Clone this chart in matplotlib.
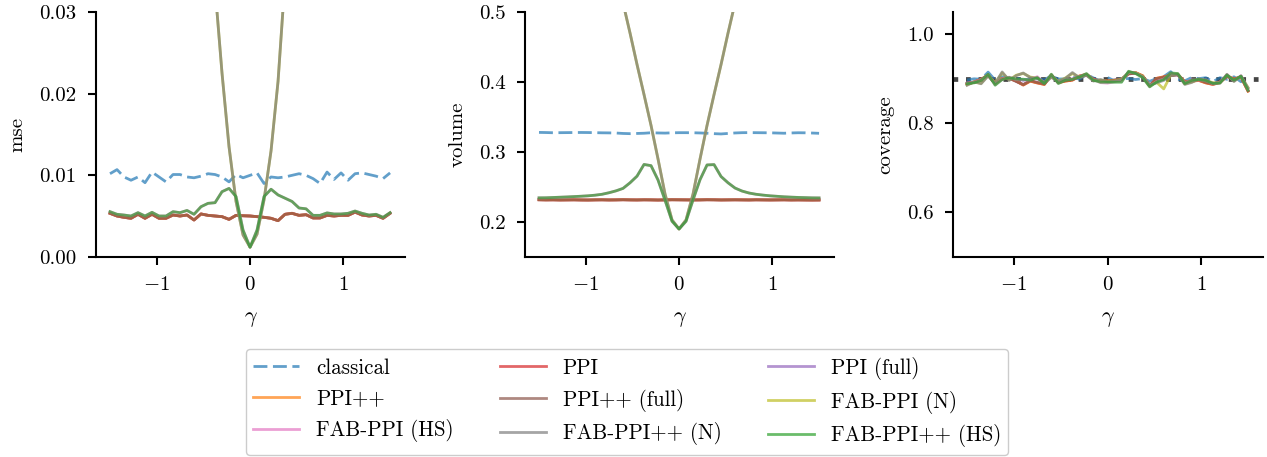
import numpy as np
import matplotlib
matplotlib.use("Agg")
import matplotlib.pyplot as plt

plt.rcParams['font.family'] = 'serif'
plt.rcParams['font.serif'] = ['cmr10', 'DejaVu Serif']
plt.rcParams['mathtext.fontset'] = 'cm'
plt.rcParams['axes.formatter.use_mathtext'] = True
plt.rcParams['font.size'] = 15

# gamma grid (41 points, -1.5 .. 1.5)
gamma = np.linspace(-1.5, 1.5, 41)

# --- mse ---
mse_classical = [0.0102, 0.0107, 0.0098, 0.0094, 0.0098, 0.0091, 0.0104, 0.0098, 0.0092, 0.0101,
                 0.0101, 0.0098, 0.0097, 0.0099, 0.0102, 0.0101, 0.0098, 0.0092, 0.0101, 0.0097,
                 0.0100,
                 0.0103, 0.0090, 0.0098, 0.0097, 0.0098, 0.0100, 0.0102, 0.0100, 0.0096, 0.0090,
                 0.0104, 0.0095, 0.0103, 0.0094, 0.0102, 0.0103, 0.0101, 0.0099, 0.0096, 0.0103]
mse_ppi = [0.00535, 0.00502, 0.00486, 0.00474, 0.00523, 0.00474, 0.00523, 0.00474, 0.00474, 0.00514,
           0.00502, 0.00514, 0.00453, 0.00527, 0.00510, 0.00502, 0.00494, 0.00461, 0.00510, 0.00505,
           0.00502,
           0.00494, 0.00486, 0.00474, 0.00445, 0.00523, 0.00535, 0.00510, 0.00518, 0.00478, 0.00478,
           0.00510, 0.00502, 0.00510, 0.00510, 0.00550, 0.00514, 0.00502, 0.00510, 0.00474, 0.00535]
mse_hs = [0.00555, 0.00523, 0.00514, 0.00502, 0.00543, 0.00502, 0.00547, 0.00502, 0.00502, 0.00555,
          0.00543, 0.00570, 0.00523, 0.00616, 0.00657, 0.00665, 0.00800, 0.00840, 0.00740, 0.00330,
          0.00120,
          0.00330, 0.00740, 0.00830, 0.00760, 0.00720, 0.00680, 0.00600, 0.00590, 0.00510, 0.00510,
          0.00540, 0.00527, 0.00527, 0.00535, 0.00563, 0.00535, 0.00514, 0.00523, 0.00486, 0.00543]
mse_n = [0.52, 0.47, 0.42, 0.38, 0.335, 0.295, 0.26, 0.225, 0.19, 0.162,
         0.135, 0.11, 0.087, 0.067, 0.049, 0.033, 0.0225, 0.0135, 0.0068, 0.0027,
         0.0012,
         0.0028, 0.0070, 0.0130, 0.0215, 0.034, 0.050, 0.068, 0.088, 0.111, 0.136,
         0.163, 0.192, 0.226, 0.262, 0.297, 0.337, 0.382, 0.423, 0.472, 0.521]

# --- volume ---
vol_classical = [0.3280, 0.3278, 0.3275, 0.3276, 0.3277, 0.3278, 0.3279, 0.3278, 0.3276, 0.3274,
                 0.3273, 0.3271, 0.3265, 0.3262, 0.3265, 0.3268, 0.3275, 0.3272, 0.3270, 0.3274,
                 0.3276,
                 0.3276, 0.3275, 0.3272, 0.3268, 0.3262, 0.3258, 0.3265, 0.3272, 0.3276, 0.3277,
                 0.3276, 0.3275, 0.3274, 0.3271, 0.3268, 0.3272, 0.3275, 0.3274, 0.3271, 0.3267]
vol_ppi = [0.2318, 0.2316, 0.2317, 0.2315, 0.2316, 0.2317, 0.2315, 0.2314, 0.2316, 0.2317,
           0.2315, 0.2316, 0.2318, 0.2316, 0.2315, 0.2317, 0.2316, 0.2314, 0.2316, 0.2318,
           0.2317,
           0.2316, 0.2315, 0.2316, 0.2318, 0.2317, 0.2315, 0.2316, 0.2317, 0.2316, 0.2315,
           0.2317, 0.2316, 0.2315, 0.2316, 0.2317, 0.2315, 0.2316, 0.2315, 0.2314, 0.2315]
vol_hs = [0.2345, 0.2346, 0.2350, 0.2354, 0.2358, 0.2363, 0.2368, 0.2374, 0.2383, 0.2396,
          0.2418, 0.2445, 0.2480, 0.2560, 0.2655, 0.2822, 0.2805, 0.2600, 0.2310, 0.2010,
          0.1900,
          0.2010, 0.2315, 0.2605, 0.2815, 0.2820, 0.2650, 0.2560, 0.2485, 0.2442, 0.2414,
          0.2396, 0.2384, 0.2374, 0.2367, 0.2360, 0.2355, 0.2351, 0.2348, 0.2345, 0.2344]
vol_n = [1.01, 0.965, 0.925, 0.885, 0.845, 0.80, 0.76, 0.72, 0.675, 0.635,
         0.59, 0.55, 0.513, 0.47, 0.425, 0.382, 0.338, 0.29, 0.24, 0.203,
         0.19,
         0.203, 0.24, 0.29, 0.338, 0.382, 0.425, 0.47, 0.513, 0.55, 0.59,
         0.635, 0.675, 0.72, 0.76, 0.80, 0.845, 0.885, 0.925, 0.965, 1.01]

# --- coverage ---
cov_classical = [0.8975, 0.9000, 0.8990, 0.9150, 0.8970, 0.9050, 0.8995, 0.9020, 0.8970, 0.9005,
                 0.9000, 0.8980, 0.9065, 0.8995, 0.9000, 0.9045, 0.8990, 0.9100, 0.9020, 0.8950,
                 0.9030,
                 0.8955, 0.9010, 0.9005, 0.8985, 0.9005, 0.8945, 0.9005, 0.9050, 0.9160, 0.8990,
                 0.8955, 0.9030, 0.9005, 0.9025, 0.8935, 0.9025, 0.8990, 0.9045, 0.8935, 0.9005]
cov_ppi = [0.8884, 0.8929, 0.8989, 0.9083, 0.8897, 0.9004, 0.9008, 0.8951, 0.8861, 0.8949,
           0.8908, 0.8874, 0.9083, 0.8914, 0.8949, 0.8971, 0.9063, 0.9098, 0.8989, 0.8944,
           0.8954,
           0.8964, 0.8984, 0.9120, 0.9138, 0.9068, 0.8839, 0.9011, 0.9044, 0.9083, 0.9098,
           0.8934, 0.8949, 0.8964, 0.8909, 0.8874, 0.8919, 0.9061, 0.8999, 0.9038, 0.8724]
cov_ppi_full = [0.8894, 0.8919, 0.8979, 0.9073, 0.8907, 0.8994, 0.9018, 0.8941, 0.8871, 0.8959,
                0.8918, 0.8884, 0.9073, 0.8924, 0.8959, 0.8981, 0.9053, 0.9088, 0.8979, 0.8954,
                0.8944,
                0.8974, 0.8994, 0.9110, 0.9128, 0.9058, 0.8849, 0.9001, 0.9034, 0.9073, 0.9088,
                0.8924, 0.8959, 0.8974, 0.8919, 0.8884, 0.8929, 0.9051, 0.8989, 0.9048, 0.8734]
cov_fab_n = [0.8865, 0.8925, 0.8899, 0.9075, 0.8907, 0.9134, 0.8974, 0.9081, 0.9121, 0.9039,
             0.9018, 0.8914, 0.9043, 0.8944, 0.9019, 0.9121, 0.9033, 0.9088, 0.8959, 0.8974,
             0.8944,
             0.8954, 0.8994, 0.9140, 0.9138, 0.9058, 0.8849, 0.8921, 0.8774, 0.9083, 0.9108,
             0.8884, 0.8929, 0.8994, 0.8959, 0.8914, 0.8909, 0.9091, 0.8949, 0.9058, 0.8804]
cov_fabpp_n = [0.8855, 0.8935, 0.8889, 0.9065, 0.8897, 0.9154, 0.8964, 0.9071, 0.9131, 0.9029,
               0.9008, 0.8904, 0.9033, 0.8934, 0.9009, 0.9141, 0.9023, 0.9078, 0.8949, 0.8984,
               0.8934,
               0.8944, 0.8984, 0.9150, 0.9128, 0.9048, 0.8859, 0.8911, 0.8964, 0.9073, 0.9098,
               0.8874, 0.8919, 0.9004, 0.8949, 0.8904, 0.8899, 0.9101, 0.8939, 0.9068, 0.8794]
cov_fab_hs = [0.8904, 0.8919, 0.8979, 0.9093, 0.8867, 0.8994, 0.9038, 0.8981, 0.8971, 0.8979,
              0.9048, 0.8904, 0.9093, 0.8904, 0.8979, 0.9001, 0.9053, 0.9108, 0.8979, 0.8914,
              0.8904,
              0.8934, 0.8944, 0.9160, 0.9128, 0.9038, 0.8829, 0.8941, 0.8994, 0.9123, 0.9108,
              0.8904, 0.8979, 0.8974, 0.8979, 0.8884, 0.8919, 0.9091, 0.8959, 0.9068, 0.8754]
cov_fabpp_hs = [0.8894, 0.8909, 0.8969, 0.9103, 0.8857, 0.8984, 0.9028, 0.8991, 0.8991, 0.8969,
                0.9028, 0.8894, 0.9103, 0.8894, 0.8969, 0.8991, 0.9043, 0.9118, 0.8969, 0.8924,
                0.8924,
                0.8924, 0.8924, 0.9170, 0.9118, 0.9028, 0.8819, 0.8931, 0.8984, 0.9133, 0.9118,
                0.8894, 0.8969, 0.8984, 0.8969, 0.8894, 0.8909, 0.9081, 0.8969, 0.9058, 0.8744]

methods = ['classical', 'PPI', 'PPI (full)', 'PPI++', 'PPI++ (full)',
           'FAB-PPI (N)', 'FAB-PPI (HS)', 'FAB-PPI++ (N)', 'FAB-PPI++ (HS)']
colors = ['tab:blue', 'tab:red', 'tab:purple', 'tab:orange', 'tab:brown',
          'tab:olive', 'tab:pink', 'tab:gray', 'tab:green']

mse = [mse_classical, mse_ppi, mse_ppi, mse_ppi, mse_ppi, mse_n, mse_hs, mse_n, mse_hs]
volume = [vol_classical, vol_ppi, vol_ppi, vol_ppi, vol_ppi, vol_n, vol_hs, vol_n, vol_hs]
coverage = [cov_classical, cov_ppi, cov_ppi_full, cov_ppi, cov_ppi_full,
            cov_fab_n, cov_fab_hs, cov_fabpp_n, cov_fabpp_hs]

fig = plt.figure(figsize=(12.67, 4.57), dpi=100)
W, H = 1267, 457
boxes = [(96, 405), (525, 834), (953, 1263)]
axes = [fig.add_axes([l / W, 1 - 257 / H, (r - l) / W, 245 / H]) for l, r in boxes]

panels = [
    (mse, 'mse', (0, 0.03), [0.0, 0.01, 0.02, 0.03], '%.2f'),
    (volume, 'volume', (0.15, 0.5), [0.2, 0.3, 0.4, 0.5], '%.1f'),
    (coverage, 'coverage', (0.5, 1.05), [0.6, 0.8, 1.0], '%.1f'),
]

handles = []
for k, (ax, (vals, ylab, ylim, yt, fmt)) in enumerate(zip(axes, panels)):
    if ylab == 'coverage':
        ax.axhline(0.9, color='#444444', linestyle=':', linewidth=3.4, zorder=1)
    for i, (name, c) in enumerate(zip(methods, colors)):
        if name == 'classical':
            ln, = ax.plot(gamma, vals[i], color=c, alpha=0.7, lw=2, dashes=(5, 2),
                          label=name, zorder=2)
        else:
            ln, = ax.plot(gamma, vals[i], color=c, alpha=0.7, lw=2, label=name, zorder=2)
        if k == 0:
            handles.append(ln)
    ax.set_xlim(-1.65, 1.66)
    ax.set_ylim(*ylim)
    ax.set_yticks(yt)
    ax.set_yticklabels([fmt % v for v in yt])
    ax.set_xticks([-1, 0, 1])
    ax.set_xlabel(r'$\gamma$', fontsize=16, labelpad=11)
    ax.set_ylabel(ylab, fontsize=15, labelpad=9)
    ax.spines['top'].set_visible(False)
    ax.spines['right'].set_visible(False)
    ax.spines['left'].set_linewidth(1.5)
    ax.spines['bottom'].set_linewidth(1.5)
    ax.tick_params(width=1.5, length=6, labelsize=15, pad=8)

# legend reads row by row, matplotlib fills columns first
order = [0, 3, 6, 1, 4, 7, 2, 5, 8]
fig.legend([handles[i] for i in order], [methods[i] for i in order],
           loc='center', bbox_to_anchor=(627 / W, 1 - 402 / H), ncol=3,
           fontsize=15.1, handlelength=2.2, handletextpad=0.8, columnspacing=2.2,
           labelspacing=0.52, frameon=True, fancybox=True, edgecolor='0.8',
           framealpha=1.0, borderpad=0.35)

fig.savefig('out.png', dpi=100)
